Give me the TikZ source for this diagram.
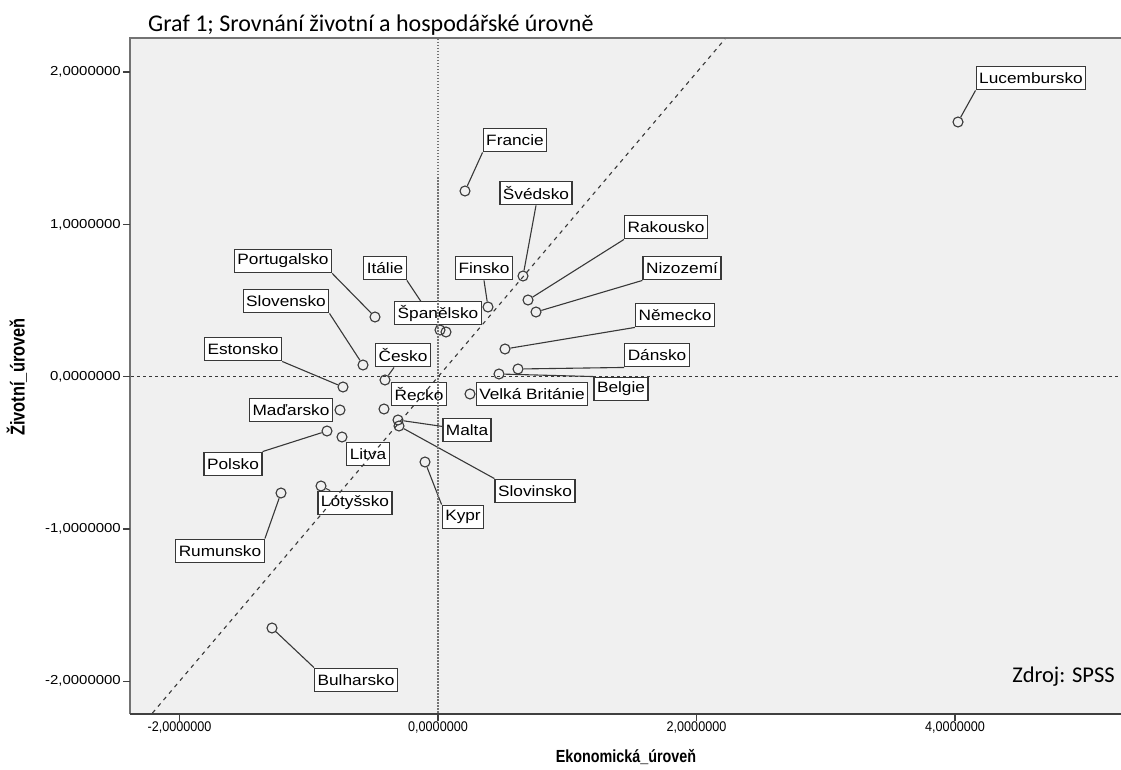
\documentclass[tikz,border=0pt]{standalone}
\usepackage{fontspec}
\setmainfont{Liberation Sans}
\newfontfamily\lblfont[FakeStretch=1.15]{Liberation Sans}
\newfontfamily\xtfont[FakeStretch=0.9]{Liberation Sans}
\newfontfamily\xtitfont[FakeStretch=0.82]{Liberation Sans}
\newfontfamily\calfont{Carlito}
\definecolor{plotbg}{HTML}{F0F0F0}
\definecolor{ink}{HTML}{383838}
\begin{document}
\begin{tikzpicture}[x=1pt,y=-1pt,
  lbl/.style={draw=ink, line width=1.4pt, fill=white, text=black,
    font=\lblfont\fontsize{15}{17}\selectfont, inner xsep=3pt, inner ysep=0pt,
    minimum height=23.5pt},
  pt/.style={circle, draw=ink, line width=1.1pt, minimum size=10pt, inner sep=0pt},
  conn/.style={draw=ink, line width=1.1pt},
  ytick/.style={anchor=east, font=\lblfont\fontsize{13}{15}\selectfont, inner sep=1pt},
  xtick/.style={anchor=north, font=\xtfont\fontsize{14}{16}\selectfont, inner sep=1pt},
  refline/.style={draw=ink, line width=1.1pt}]
\useasboundingbox (0,0) rectangle (1121,770);
\fill[white] (0,0) rectangle (1121,770);
% plot area
\fill[plotbg] (130,38) rectangle (1121,714);
\draw[black!55, line width=1.8pt] (1125,38) -- (130,38) -- (130,714);
\draw[black!75, line width=1.8pt] (130,714) -- (1125,714);
% ticks
\foreach \yy in {72,224.3,376.6,528.9,681.2} \draw[black!75, line width=1.2pt] (123,\yy) -- (130,\yy);
\foreach \xx in {179.5,438,696.5,955} \draw[black!75, line width=1.2pt] (\xx,714) -- (\xx,721);
\node[ytick] (yt1) at (122,72) {2,0000000};
\node[ytick] (yt2) at (122,224.3) {1,0000000};
\node[ytick] (yt3) at (122,376.6) {0,0000000};
\node[ytick] (yt4) at (122,528.9) {-1,0000000};
\node[ytick] (yt5) at (122,681.2) {-2,0000000};
\node[xtick] (xt1) at (179.5,721) {-2,0000000};
\node[xtick] (xt2) at (438,721) {0,0000000};
\node[xtick] (xt3) at (696.5,721) {2,0000000};
\node[xtick] (xt4) at (955,721) {4,0000000};
% axis titles
\node[rotate=90, font=\xtitfont\bfseries\fontsize{20}{22}\selectfont] (ytitle) at (17,377) {Životní\_úroveň};
\node[font=\xtitfont\bfseries\fontsize{17.5}{19}\selectfont] (xtitle) at (626,757) {Ekonomická\_úroveň};
% title and source
\node[anchor=base west, inner sep=0pt, font=\calfont\fontsize{24}{28}\selectfont] (title) at (148,32) {Graf 1; Srovnání životní a hospodářské úrovně};
\node[anchor=east, inner sep=0pt, font=\calfont\fontsize{22.5}{26}\selectfont] (src) at (1115,677) {Zdroj: SPSS};
% points
\node[pt] (pLuc) at (958,122) {};
\node[pt] (pFra) at (465,191) {};
\node[pt] (pSve) at (523,276) {};
\node[pt] (pRak) at (528,300) {};
\node[pt] (pNiz) at (536,312) {};
\node[pt] (pNem) at (505,349) {};
\node[pt] (pDan) at (518,369) {};
\node[pt] (pBel) at (499,374) {};
\node[pt] (pVB) at (470,394) {};
\node[pt] (pFin) at (488,307) {};
\node[pt] (pSpa) at (446,332) {};
\node[pt] (pIta) at (440,330) {};
\node[pt] (pPor) at (375,317) {};
\node[pt] (pSlk) at (363,365) {};
\node[pt] (pEst) at (343,387) {};
\node[pt] (pCes) at (385,380) {};
\node[pt] (pRec) at (384,409) {};
\node[pt] (pMad) at (340,410) {};
\node[pt] (pMal) at (398,420) {};
\node[pt] (pSlv) at (399,426) {};
\node[pt] (pLit) at (342,437) {};
\node[pt] (pKyp) at (425,462) {};
\node[pt] (pLot) at (321,486) {};
\node[pt] (pPol) at (327,431) {};
\node[pt] (pRum) at (281,493) {};
\node[pt] (pBul) at (272,628) {};
% label positions
\path
  (1031,78) coordinate (cLuc)
  (515,140) coordinate (cFra)
  (536,193) coordinate (cSve)
  (666,227) coordinate (cRak)
  (682,268) coordinate (cNiz)
  (675,315) coordinate (cNem)
  (657,355) coordinate (cDan)
  (621,389) coordinate (cBel)
  (532,394) coordinate (cVB)
  (484,268) coordinate (cFin)
  (438,313) coordinate (cSpa)
  (385,268) coordinate (cIta)
  (283,261) coordinate (cPor)
  (286,301) coordinate (cSlk)
  (243,349) coordinate (cEst)
  (403,355) coordinate (cCes)
  (419,394) coordinate (cRec)
  (291,410) coordinate (cMad)
  (467,430) coordinate (cMal)
  (535,491) coordinate (cSlv)
  (368,454) coordinate (cLit)
  (463,517) coordinate (cKyp)
  (355,503) coordinate (cLot)
  (233,464) coordinate (cPol)
  (220,551) coordinate (cRum)
  (356,680) coordinate (cBul);
% invisible label frames for connector anchors
\begin{scope}[every node/.append style={draw=none, fill=none, text opacity=0}]
\node[lbl] (lLuc) at (cLuc) {Lucembursko};
\node[lbl] (lFra) at (cFra) {Francie};
\node[lbl] (lSve) at (cSve) {Švédsko};
\node[lbl] (lRak) at (cRak) {Rakousko};
\node[lbl] (lNiz) at (cNiz) {Nizozemí};
\node[lbl] (lNem) at (cNem) {Německo};
\node[lbl] (lDan) at (cDan) {Dánsko};
\node[lbl] (lBel) at (cBel) {Belgie};
\node[lbl] (lFin) at (cFin) {Finsko};
\node[lbl] (lIta) at (cIta) {Itálie};
\node[lbl] (lPor) at (cPor) {Portugalsko};
\node[lbl] (lSlk) at (cSlk) {Slovensko};
\node[lbl] (lEst) at (cEst) {Estonsko};
\node[lbl] (lCes) at (cCes) {Česko};
\node[lbl] (lMal) at (cMal) {Malta};
\node[lbl] (lSlv) at (cSlv) {Slovinsko};
\node[lbl] (lKyp) at (cKyp) {Kypr};
\node[lbl] (lLot) at (cLot) {Lótyšsko};
\node[lbl] (lPol) at (cPol) {Polsko};
\node[lbl] (lRum) at (cRum) {Rumunsko};
\node[lbl] (lBul) at (cBul) {Bulharsko};
\end{scope}
% connectors
\draw[conn] (lLuc.south west) -- (pLuc);
\draw[conn] (lFra.south west) -- (pFra);
\draw[conn] (lSve.south) -- (pSve);
\draw[conn] (lRak.south west) -- (pRak);
\draw[conn] (lNiz.south west) -- (pNiz);
\draw[conn] (lNem.south west) -- (pNem);
\draw[conn] (lDan.south west) -- (pDan);
\draw[conn] (lBel.north west) -- (pBel);
\draw[conn] (lFin.south) -- (pFin);
\draw[conn] (lIta.south east) -- (pIta);
\draw[conn] (lPor.south east) -- (pPor);
\draw[conn] (lSlk.south east) -- (pSlk);
\draw[conn] (lEst.south east) -- (pEst);
\draw[conn] (lCes) -- (pCes);
\draw[conn] (lMal) -- (pMal);
\draw[conn] (lSlv.north west) -- (pSlv);
\draw[conn] (lKyp.north west) -- (pKyp);
\draw[conn] (lLot) -- (pLot);
\draw[conn] (lPol.north east) -- (pPol);
\draw[conn] (lRum.north east) -- (pRum);
\draw[conn] (lBul.north west) -- (pBul);
% visible labels
\node[lbl] (vLuc) at (cLuc) {Lucembursko};
\node[lbl] (vFra) at (cFra) {Francie};
\node[lbl] (vSve) at (cSve) {Švédsko};
\node[lbl] (vRak) at (cRak) {Rakousko};
\node[lbl] (vNiz) at (cNiz) {Nizozemí};
\node[lbl] (vNem) at (cNem) {Německo};
\node[lbl] (vDan) at (cDan) {Dánsko};
\node[lbl] (vBel) at (cBel) {Belgie};
\node[lbl] (vVB) at (cVB) {Velká Británie};
\node[lbl] (vFin) at (cFin) {Finsko};
\node[lbl] (vSpa) at (cSpa) {Španělsko};
\node[lbl] (vIta) at (cIta) {Itálie};
\node[lbl] (vPor) at (cPor) {Portugalsko};
\node[lbl] (vSlk) at (cSlk) {Slovensko};
\node[lbl] (vEst) at (cEst) {Estonsko};
\node[lbl] (vCes) at (cCes) {Česko};
\node[lbl] (vRec) at (cRec) {Řecko};
\node[lbl] (vMad) at (cMad) {Maďarsko};
\node[lbl] (vMal) at (cMal) {Malta};
\node[lbl] (vSlv) at (cSlv) {Slovinsko};
\node[lbl] (vLit) at (cLit) {Litva};
\node[lbl] (vKyp) at (cKyp) {Kypr};
\node[lbl] (vLot) at (cLot) {Lótyšsko};
\node[lbl] (vPol) at (cPol) {Polsko};
\node[lbl] (vRum) at (cRum) {Rumunsko};
\node[lbl] (vBul) at (cBul) {Bulharsko};
% reference lines on top
\draw[refline, dash pattern=on 3pt off 3pt] (131,376.6) -- (1121,376.6);
\draw[refline, draw=black!55, line width=1.3pt, dash pattern=on 1.5pt off 1.5pt] (438,39) -- (438,713);
\draw[refline, dash pattern=on 4pt off 4.5pt] (152.5,713) -- (725,39);
\end{tikzpicture}
\end{document}
